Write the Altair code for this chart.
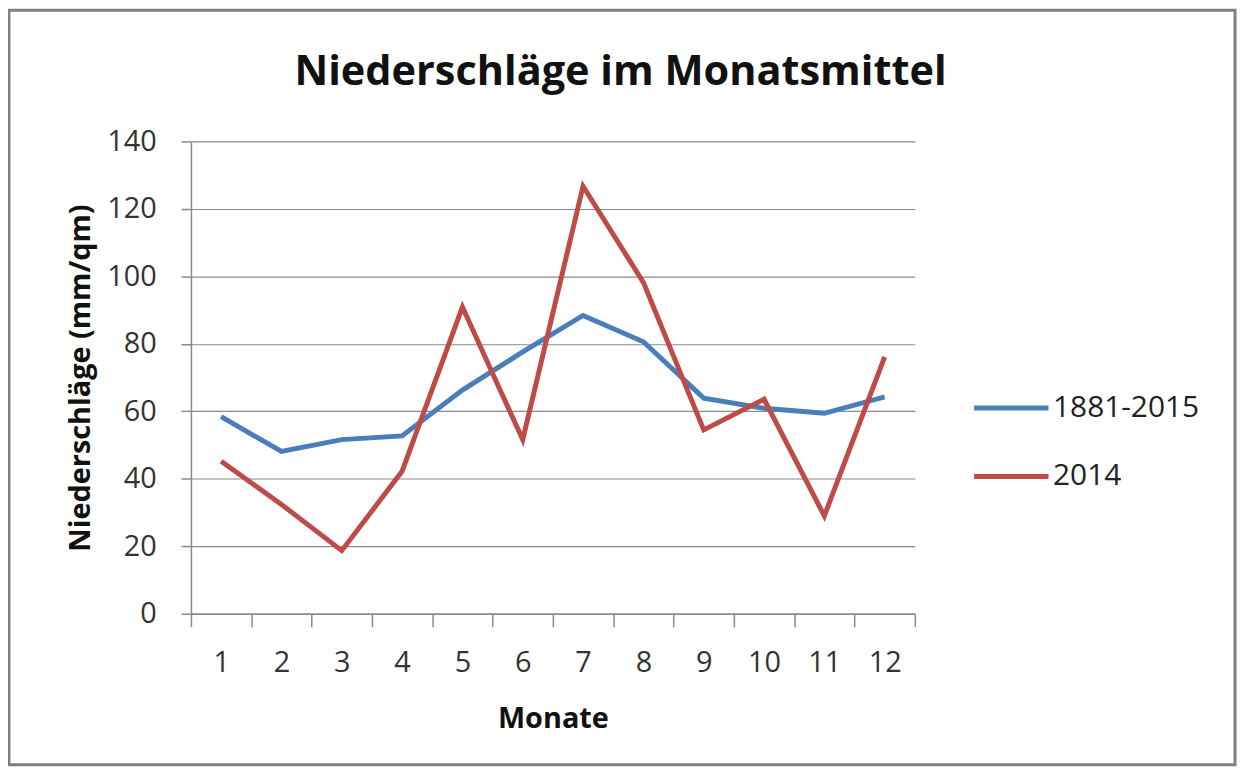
import altair as alt
import pandas as pd

months = [1, 2, 3, 4, 5, 6, 7, 8, 9, 10, 11, 12]
series_names = ["1881-2015", "2014"]
mean_1881_2015 = [58.4, 48.1, 51.6, 52.7, 66.3, 77.6, 88.4, 80.6, 63.9, 60.9, 59.4, 64.3]
values_2014 = [45.2, 32.4, 18.7, 42.2, 90.9, 51.6, 126.7, 98.2, 54.5, 63.6, 29.0, 76.1]
colors = ["#4a7ebb", "#be4b48"]

rows = []
for m, v in zip(months, mean_1881_2015):
    rows.append({"Monat": m, "Wert": v, "Reihe": series_names[0]})
for m, v in zip(months, values_2014):
    rows.append({"Monat": m, "Wert": v, "Reihe": series_names[1]})
df = pd.DataFrame(rows)

FONT = "Open Sans"

lines = alt.Chart(df).mark_line(strokeWidth=5, strokeJoin="miter", strokeCap="butt").encode(
    x=alt.X("Monat:O", sort=months,
            scale=alt.Scale(paddingInner=0, paddingOuter=0),
            axis=alt.Axis(title="Monate", labelAngle=0, tickBand="extent",
                          tickSize=13, labelPadding=22, titlePadding=27,
                          grid=False)),
    y=alt.Y("Wert:Q", scale=alt.Scale(domain=[0, 140], nice=False),
            axis=alt.Axis(title="Niederschläge (mm/qm)", values=[0, 20, 40, 60, 80, 100, 120, 140],
                          tickSize=10, labelPadding=25, titlePadding=11, grid=True)),
    color=alt.Color("Reihe:N", scale=alt.Scale(domain=series_names, range=colors),
                    legend=alt.Legend(title=None, orient="none", legendX=785, legendY=228,
                                      symbolType="stroke", symbolStrokeWidth=5,
                                      symbolSize=5600, labelFontSize=30, labelFont=FONT,
                                      labelColor="#222222", rowPadding=14, labelOffset=2)),
    detail="Reihe:N",
)

frame = alt.Chart(pd.DataFrame({"a": [0]})).mark_rect(filled=False, stroke="#808080", strokeWidth=3).encode(
    x=alt.value(-183), x2=alt.value(1050), y=alt.value(-132), y2=alt.value(627)
)

chart = alt.layer(frame, lines).properties(
    width=728, height=475,
    title=alt.TitleParams("Niederschläge im Monatsmittel", fontSize=41.7, font=FONT,
                          fontWeight="bold", color="#111111", dx=68, offset=-85),
    autosize=alt.AutoSizeParams(type="none"),
    padding={"left": 184, "top": 132, "right": 324, "bottom": 154},
).configure_view(stroke=None).configure_axis(
    labelFont=FONT, labelFontSize=29, labelColor="#333333",
    titleFont=FONT, titleFontSize=29, titleFontWeight="bold", titleColor="#111111",
    domainColor="#8a8a8a", tickColor="#8a8a8a", gridColor="#8a8a8a",
    domainWidth=1.5, tickWidth=1.5, gridWidth=1.2,
).configure_axisY(domain=True)

chart.save("out.html", embed_options={"renderer": "svg", "actions": False})
